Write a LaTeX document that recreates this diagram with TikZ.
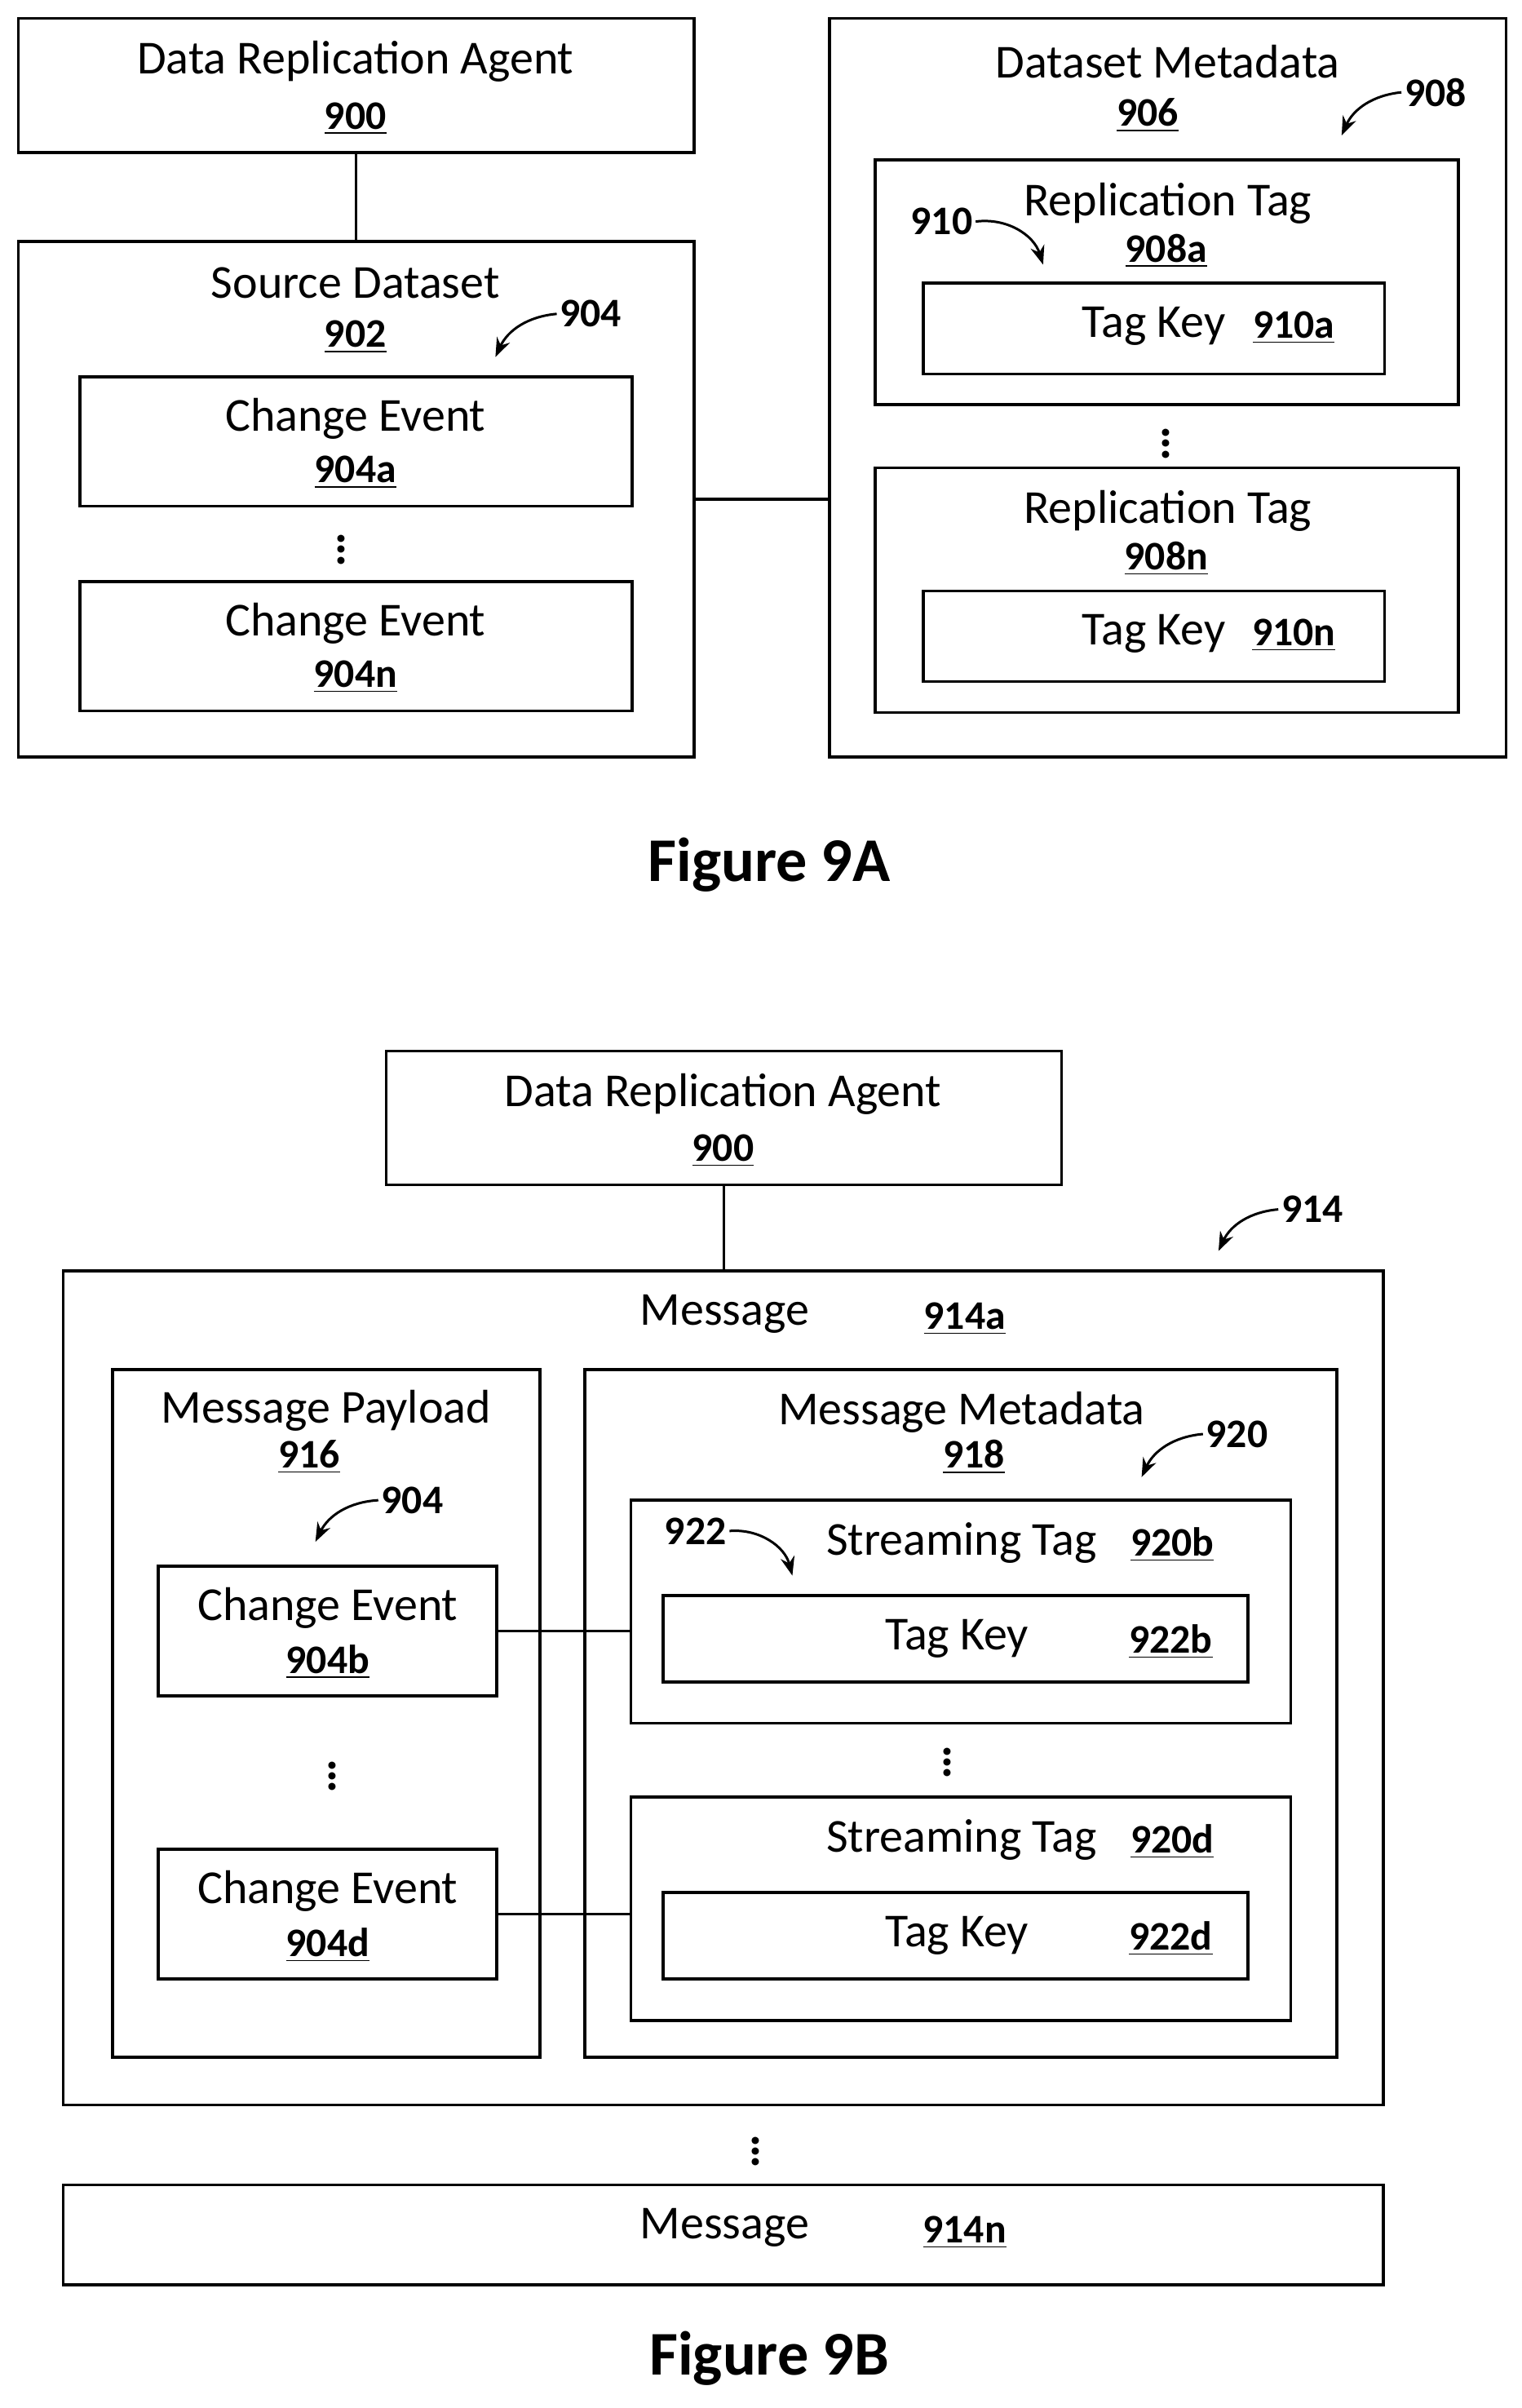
\documentclass[tikz,border=0pt]{standalone}
\usepackage{fontspec}
\setmainfont{Carlito}
\usetikzlibrary{fit, arrows.meta}

\tikzset{
  box/.style={draw, line width=1.1pt, inner sep=0pt},
  txt/.style={font=\fontsize{17.5}{19}\selectfont, inner sep=0pt},
  num/.style={font=\fontsize{15}{17}\selectfont\bfseries, inner sep=0pt},
  ref/.style={font=\fontsize{15}{17}\selectfont\bfseries, inner sep=1pt},
  ptr/.style={-{Stealth[length=7pt]}, line width=0.9pt},
  dots/.style={font=\fontsize{18}{18}\selectfont\bfseries, inner sep=0pt},
  link/.style={line width=1.1pt}
}
\newcommand{\ul}[1]{\underline{#1}}

\begin{document}
\begin{tikzpicture}[x=0.02cm, y=-0.02cm]
\useasboundingbox (0,0) rectangle (989,1565);

% Figure 9A
\node[box, fit={(12,12) (451,99)}] (dra) {};
\node[txt] at (231,40) {Data Replication Agent};
\node[num] at (231,77) {\ul{900}};

\node[box, fit={(12,157) (451,492)}] (src) {};
\node[txt] at (231,184) {Source Dataset};
\node[num] at (231,219) {\ul{902}};
\node[ref] (l904) at (384,204) {904};
\draw[ptr] (l904.west) to[bend right=30] (322,232);

\foreach \n/\y in {904a/245, 904n/378} {
  \node[box, fit={(52,\y) (411,\y+84)}] (ce\n) {};
  \node[txt] at (231,\y+27) {Change Event};
  \node[num] at (231,\y+62) {\ul{\n}};
}
\node[dots] at (222,352) {$\vdots$};

\node[box, fit={(539,12) (979,492)}] (meta) {};
\node[txt] at (759,40) {Dataset Metadata};
\node[num] at (746,75) {\ul{906}};
\node[ref] (l908) at (933,60) {908};
\draw[ptr] (l908.west) to[bend right=30] (872,88);

\foreach \n/\k/\y in {908a/910a/104, 908n/910n/304} {
  \node[box, fit={(569,\y) (948,\y+159)}] (rt\n) {};
  \node[txt] at (759,\y+28) {Replication Tag};
  \node[num] at (758,\y+59) {\ul{\n}};
  \node[box, fit={(600,\y+80) (900,\y+139)}] (tk\k) {};
  \node[txt] at (750,\y+108) {Tag Key};
  \node[num] at (841,\y+109) {\ul{\k}};
}
\node[ref] (l910) at (612,144) {910};
\draw[ptr] (l910.east) to[bend left=40] (678,172);
\node[dots] at (758,283) {$\vdots$};

\draw[link] (dra.south) -- (src.north);
\draw[link] (src.east) -- (src.east -| meta.west);

\node[font=\fontsize{23}{25}\selectfont\bfseries] (fa) at (500,562) {Figure 9A};

% Figure 9B
\node[box, fit={(251,683) (690,770)}] (drab) {};
\node[txt] at (470,711) {Data Replication Agent};
\node[num] at (470,748) {\ul{900}};

\node[box, fit={(41,826) (899,1368)}] (msg) {};
\node[txt] at (471,854) {Message};
\node[num] at (627,857) {\ul{914a}};
\node[ref] (l914) at (853,786) {914};
\draw[ptr] (l914.west) to[bend right=30] (792,813);
\draw[link] (drab.south) -- (msg.north -| drab.south);

\node[box, fit={(73,890) (351,1337)}] (pay) {};
\node[txt] at (212,917) {Message Payload};
\node[num] at (201,947) {\ul{916}};
\node[ref] (l904b) at (268,975) {904};
\draw[ptr] (l904b.west) to[bend right=30] (205,1002);

\node[box, fit={(380,890) (869,1337)}] (mm) {};
\node[txt] at (625,918) {Message Metadata};
\node[num] at (633,947) {\ul{918}};
\node[ref] (l920) at (804,932) {920};
\draw[ptr] (l920.west) to[bend right=30] (742,960);

\foreach \c/\y/\s/\t/\k in {904b/1018/920b/975/922b, 904d/1202/920d/1168/922d} {
  \node[box, fit={(103,\y) (323,\y+84)}] (ce\c) {};
  \node[txt] at (213,\y+27) {Change Event};
  \node[num] at (213,\y+62) {\ul{\c}};
  \node[box, fit={(410,\t) (839,\t+145)}] (st\s) {};
  \node[txt] at (625,\t+28) {Streaming Tag};
  \node[num] at (762,\t+29) {\ul{\s}};
  \node[box, fit={(431,\t+62) (811,\t+118)}] (tk\k) {};
  \node[txt] at (622,\t+90) {Tag Key};
  \node[num] at (761,\t+92) {\ul{\k}};
  \draw[link] (ce\c.east) -- (ce\c.east -| st\s.west);
}
\node[ref] (l922) at (452,995) {922};
\draw[ptr] (l922.east) to[bend left=40] (515,1024);
\node[dots] at (216,1149) {$\vdots$};
\node[dots] at (616,1140) {$\vdots$};
\node[dots] at (491,1393) {$\vdots$};

\node[box, fit={(41,1420) (899,1485)}] (msgn) {};
\node[txt] at (471,1448) {Message};
\node[num] at (627,1451) {\ul{914n}};

\node[font=\fontsize{23}{25}\selectfont\bfseries] (fb) at (500,1533) {Figure 9B};
\end{tikzpicture}
\end{document}
